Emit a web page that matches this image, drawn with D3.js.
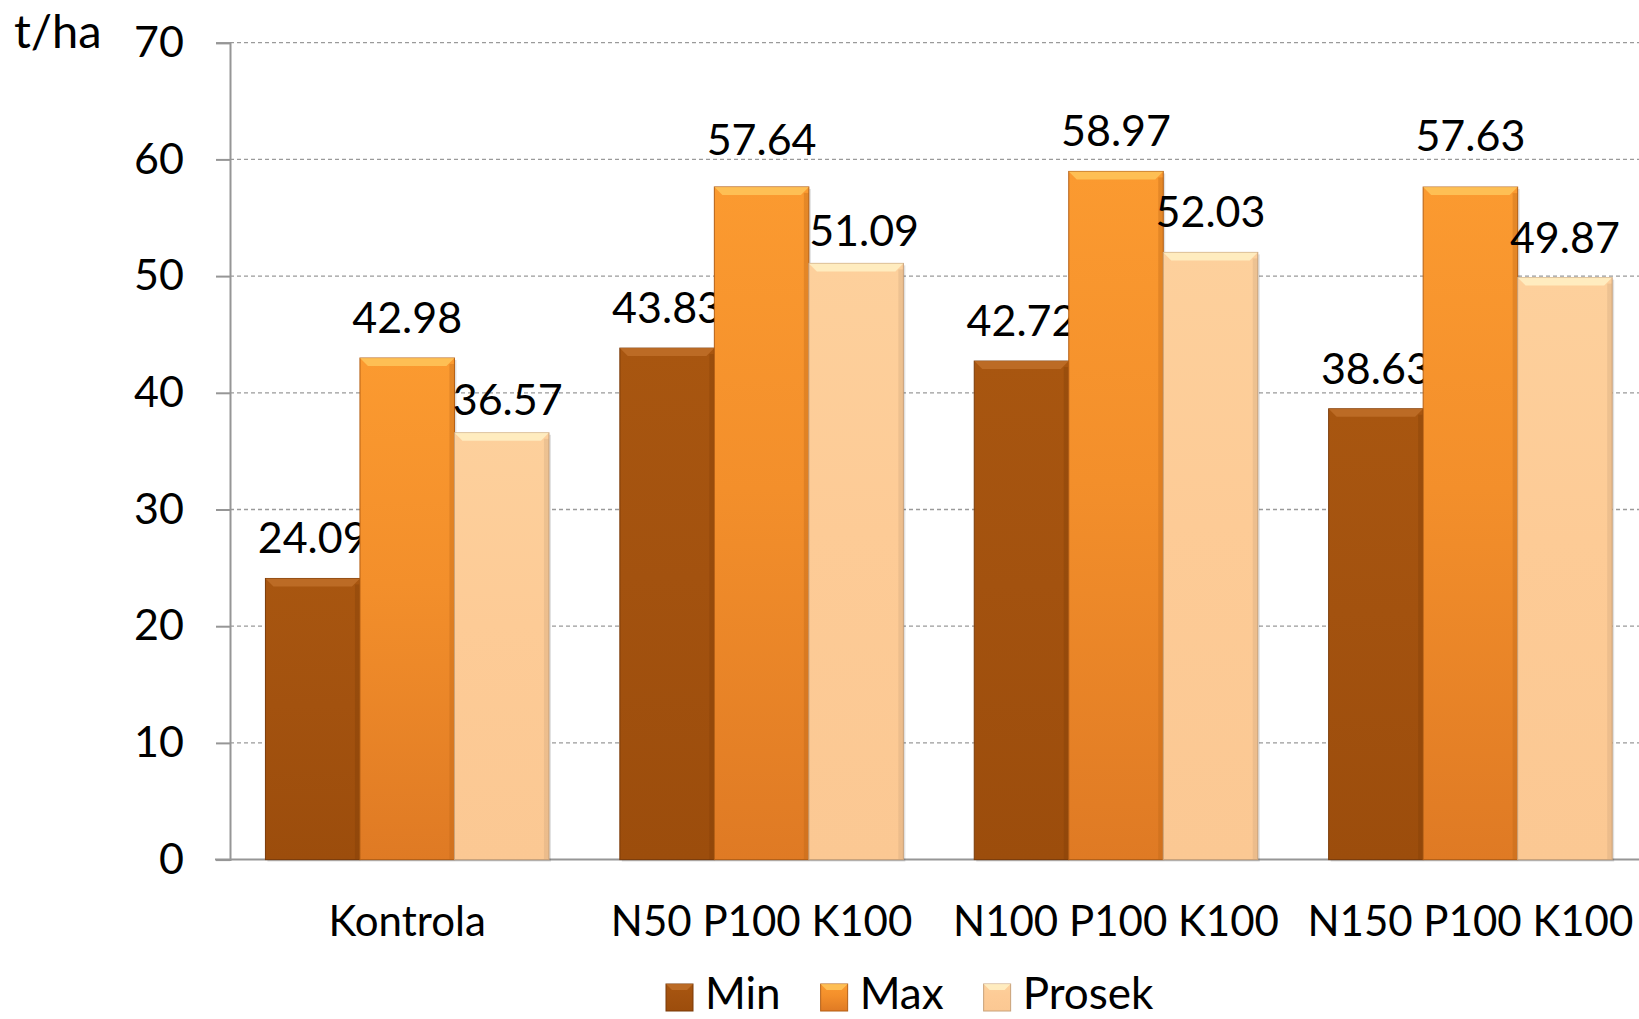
<!DOCTYPE html>
<html>
<head>
<meta charset="UTF-8">
<title>Prinos t/ha</title>
<script src="https://d3js.org/d3.v7.min.js"></script>
<style>
  body { margin: 0; background: #fff; }
  text { font-family: Lato, "Noto Sans", sans-serif; fill: #000; }
</style>
</head>
<body>
<script>
  // data
  var categories = ["Kontrola", "N50 P100 K100", "N100 P100 K100", "N150 P100 K100"];
  var seriesNames = ["Min", "Max", "Prosek"];
  var minValues = [24.09, 43.83, 42.72, 38.63];
  var maxValues = [42.98, 57.64, 58.97, 57.63];
  var prosekValues = [36.57, 51.09, 52.03, 49.87];
  var yTicks = [0, 10, 20, 30, 40, 50, 60, 70];

  var width = 1639, height = 1019;
  var fontSize = 42;

  // hand-moved labels in the original (series index, category index) -> [dx, dy]
  var labelNudge = { "2-0": [6, 7], "2-1": [8, 8], "1-1": [0, -7], "1-3": [0, -11] };

  var colors = {
    Min:    { top: "#a85610", mid: "#a3520f", bot: "#9c4d0c", edge: "#7a3a08", bevel: "#c0702a" },
    Max:    { top: "#fb9a30", mid: "#f38f2b", bot: "#df7a24", edge: "#b45f15", bevel: "#ffc85e" },
    Prosek: { top: "#fdd09c", mid: "#fdcb96", bot: "#fbc893", edge: "#c9a27a", bevel: "#fff2c8" }
  };

  var values = [minValues, maxValues, prosekValues];
  var table = categories.map(function(c, i) {
    return { cat: c, vals: seriesNames.map(function(s, k) { return { s: s, k: k, i: i, v: values[k][i] }; }) };
  });

  var svg = d3.select("body").append("svg")
      .attr("width", width)
      .attr("height", height);

  var defs = svg.append("defs");
  seriesNames.forEach(function(s) {
    var c = colors[s];
    var g = defs.append("linearGradient").attr("id", "grad-" + s)
        .attr("x1", 0).attr("y1", 0).attr("x2", 0).attr("y2", 1);
    g.append("stop").attr("offset", "0%").attr("stop-color", c.top);
    g.append("stop").attr("offset", "45%").attr("stop-color", c.mid);
    g.append("stop").attr("offset", "100%").attr("stop-color", c.bot);
  });

  var x0 = d3.scaleBand()
      .domain(categories)
      .range([230, 230 + 4 * 354.4]);

  var x1 = d3.scaleBand()
      .domain(seriesNames)
      .range([0, x0.bandwidth()])
      .paddingOuter(0.375);

  var y = d3.scaleLinear()
      .domain([0, 70])
      .range([859.6, 42.7]);

  // gridlines
  svg.append("g")
    .selectAll("line")
    .data(yTicks.filter(function(d) { return d > 0; }))
    .enter().append("line")
      .attr("x1", 230).attr("x2", width)
      .attr("y1", function(d) { return y(d); })
      .attr("y2", function(d) { return y(d); })
      .attr("stroke", "#9a9a9a")
      .attr("stroke-width", 1.3)
      .attr("stroke-dasharray", "4,3");

  // y axis
  var yAxis = svg.append("g")
      .attr("transform", "translate(230,0)")
      .call(d3.axisLeft(y).tickValues(yTicks).tickSize(14).tickPadding(32));
  yAxis.select(".domain").attr("stroke", "#969696").attr("stroke-width", 2);
  yAxis.selectAll(".tick line").attr("stroke", "#969696").attr("stroke-width", 2);
  yAxis.selectAll(".tick text")
      .style("font-family", "Lato, 'Noto Sans', sans-serif")
      .style("font-size", (fontSize + 1) + "px")
      .attr("fill", "#000");

  // x axis line
  svg.append("line")
      .attr("x1", 215).attr("x2", width)
      .attr("y1", y(0)).attr("y2", y(0))
      .attr("stroke", "#969696").attr("stroke-width", 2);

  // bars
  var groups = svg.append("g").selectAll("g")
      .data(table)
      .enter().append("g")
      .attr("transform", function(d) { return "translate(" + x0(d.cat) + ",0)"; });

  var bars = groups.selectAll("g.bar")
      .data(function(d) { return d.vals; })
      .enter().append("g").attr("class", "bar");

  var bw = x1.bandwidth();

  bars.append("rect")
      .attr("x", function(d) { return x1(d.s) + 2; })
      .attr("y", function(d) { return y(d.v) + 2; })
      .attr("width", bw)
      .attr("height", function(d) { return y(0) - y(d.v); })
      .attr("fill", "rgba(0,0,0,0.12)");

  bars.append("rect")
      .attr("x", function(d) { return x1(d.s); })
      .attr("y", function(d) { return y(d.v); })
      .attr("width", bw)
      .attr("height", function(d) { return y(0) - y(d.v); })
      .attr("fill", function(d) { return "url(#grad-" + d.s + ")"; })
      .attr("stroke", function(d) { return colors[d.s].edge; })
      .attr("stroke-width", 1);

  // top bevel
  bars.append("path")
      .attr("d", function(d) {
        var xl = x1(d.s), xr = xl + bw, t = y(d.v), b = 8;
        return "M" + xl + "," + t + "L" + xr + "," + t + "L" + (xr - b) + "," + (t + b) + "L" + (xl + b) + "," + (t + b) + "Z";
      })
      .attr("fill", function(d) { return colors[d.s].bevel; })
      .attr("opacity", 0.8);

  // right edge shade
  bars.append("rect")
      .attr("x", function(d) { return x1(d.s) + bw - 5; })
      .attr("y", function(d) { return y(d.v) + 6; })
      .attr("width", 5)
      .attr("height", function(d) { return y(0) - y(d.v) - 6; })
      .attr("fill", function(d) { return colors[d.s].edge; })
      .attr("opacity", 0.3);

  // value labels
  bars.append("text")
      .attr("x", function(d) {
        var n = labelNudge[d.k + "-" + d.i];
        return x1(d.s) + bw / 2 + (n ? n[0] : 0);
      })
      .attr("y", function(d) {
        var n = labelNudge[d.k + "-" + d.i];
        return y(d.v) - 25 + (n ? n[1] : 0);
      })
      .attr("text-anchor", "middle")
      .style("font-size", (fontSize + 1) + "px")
      .text(function(d) { return d.v.toFixed(2); });

  // category labels
  svg.append("g").selectAll("text")
      .data(categories)
      .enter().append("text")
      .attr("x", function(d) { return x0(d) + x0.bandwidth() / 2; })
      .attr("y", 936)
      .attr("text-anchor", "middle")
      .style("font-size", fontSize + "px")
      .text(function(d) { return d; });

  // unit label
  svg.append("text")
      .attr("x", 14).attr("y", 48)
      .style("font-size", "47px")
      .text("t/ha");

  // legend
  var legend = svg.append("g");
  var lx = 666;
  seriesNames.forEach(function(s) {
    legend.append("rect")
        .attr("x", lx).attr("y", 984)
        .attr("width", 27).attr("height", 27)
        .attr("fill", "url(#grad-" + s + ")")
        .attr("stroke", colors[s].edge).attr("stroke-width", 1);
    legend.append("path")
        .attr("d", "M" + lx + ",984L" + (lx + 27) + ",984L" + (lx + 21) + ",990L" + (lx + 6) + ",990Z")
        .attr("fill", colors[s].bevel).attr("opacity", 0.8);
    var t = legend.append("text")
        .attr("x", lx + 39).attr("y", 1009)
        .style("font-size", "44px")
        .text(s);
    lx = lx + 39 + t.node().getComputedTextLength() + 40;
  });
</script>
</body>
</html>
